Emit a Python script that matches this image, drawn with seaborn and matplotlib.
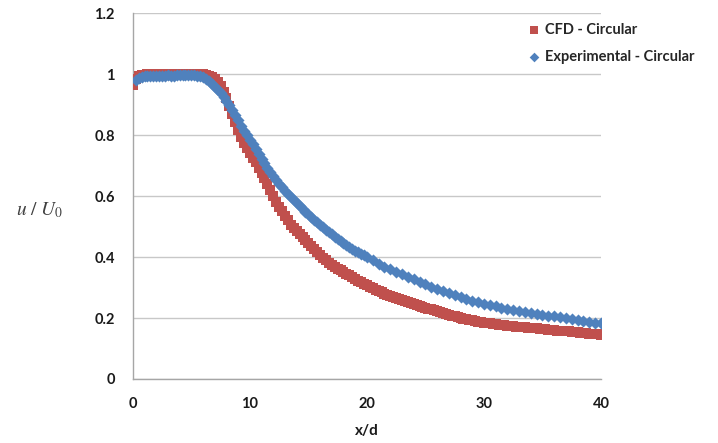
import numpy as np
import pandas as pd
import seaborn as sns
import matplotlib
matplotlib.use("Agg")
import matplotlib.pyplot as plt

# values (CFD every 0.25 in x/d)
cfd_x = [0.0, 0.25, 0.5, 0.75, 1.0, 1.25, 1.5, 1.75, 2.0, 2.25, 2.5, 2.75,
         3.0, 3.25, 3.5, 3.75, 4.0, 4.25, 4.5, 4.75, 5.0, 5.25, 5.5, 5.75,
         6.0, 6.25, 6.5, 6.75, 7.0, 7.25, 7.5, 7.75, 8.0, 8.25, 8.5, 8.75,
         9.0, 9.25, 9.5, 9.75, 10.0, 10.25, 10.5, 10.75, 11.0, 11.25, 11.5, 11.75,
         12.0, 12.25, 12.5, 12.75, 13.0, 13.25, 13.5, 13.75, 14.0, 14.25, 14.5, 14.75,
         15.0, 15.25, 15.5, 15.75, 16.0, 16.25, 16.5, 16.75, 17.0, 17.25, 17.5, 17.75,
         18.0, 18.25, 18.5, 18.75, 19.0, 19.25, 19.5, 19.75, 20.0, 20.25, 20.5, 20.75,
         21.0, 21.25, 21.5, 21.75, 22.0, 22.25, 22.5, 22.75, 23.0, 23.25, 23.5, 23.75,
         24.0, 24.25, 24.5, 24.75, 25.0, 25.25, 25.5, 25.75, 26.0, 26.25, 26.5, 26.75,
         27.0, 27.25, 27.5, 27.75, 28.0, 28.25, 28.5, 28.75, 29.0, 29.25, 29.5, 29.75,
         30.0, 30.25, 30.5, 30.75, 31.0, 31.25, 31.5, 31.75, 32.0, 32.25, 32.5, 32.75,
         33.0, 33.25, 33.5, 33.75, 34.0, 34.25, 34.5, 34.75, 35.0, 35.25, 35.5, 35.75,
         36.0, 36.25, 36.5, 36.75, 37.0, 37.25, 37.5, 37.75, 38.0, 38.25, 38.5, 38.75,
         39.0, 39.25, 39.5, 39.75, 40.0]
cfd_u = [0.965, 0.985, 0.995, 0.997, 0.998, 0.999, 0.999, 0.998, 0.998, 0.999, 0.999, 1.0,
         1.0, 0.999, 0.999, 1.0, 1.0, 1.0, 1.0, 1.0, 1.0, 1.0, 1.0, 1.0,
         0.999, 0.998, 0.995, 0.991, 0.985, 0.975, 0.96, 0.942, 0.92, 0.896, 0.87, 0.843,
         0.815, 0.795, 0.775, 0.757, 0.74, 0.725, 0.71, 0.693, 0.675, 0.658, 0.64, 0.62,
         0.60, 0.582, 0.565, 0.55, 0.535, 0.52, 0.505, 0.495, 0.485, 0.475, 0.465, 0.455,
         0.445, 0.435, 0.425, 0.415, 0.405, 0.397, 0.39, 0.382, 0.375, 0.368, 0.362, 0.356,
         0.35, 0.345, 0.34, 0.334, 0.328, 0.322, 0.317, 0.312, 0.307, 0.302, 0.298, 0.293,
         0.288, 0.284, 0.28, 0.276, 0.272, 0.268, 0.265, 0.262, 0.259, 0.256, 0.253, 0.25,
         0.246, 0.243, 0.24, 0.237, 0.234, 0.231, 0.228, 0.225, 0.222, 0.219, 0.216, 0.213,
         0.21, 0.207, 0.205, 0.202, 0.2, 0.198, 0.196, 0.194, 0.192, 0.19, 0.188, 0.186,
         0.185, 0.183, 0.182, 0.18, 0.179, 0.178, 0.177, 0.176, 0.175, 0.174, 0.173, 0.172,
         0.171, 0.17, 0.169, 0.168, 0.168, 0.167, 0.166, 0.165, 0.164, 0.163, 0.162, 0.161,
         0.16, 0.159, 0.158, 0.157, 0.157, 0.156, 0.155, 0.154, 0.153, 0.152, 0.151, 0.15,
         0.149, 0.148, 0.147, 0.146, 0.145]

# experimental points: dense up to x/d = 20, every 0.5 after that
exp_x = [0.3, 0.5, 0.75, 1.0, 1.25, 1.5, 1.75, 2.0, 2.25, 2.5, 2.75,
         3.0, 3.25, 3.5, 3.75, 4.0, 4.25, 4.5, 4.75, 5.0, 5.25, 5.5, 5.75,
         6.0, 6.25, 6.5, 6.75, 7.0, 7.25, 7.5, 7.75, 8.0, 8.25, 8.5, 8.75,
         9.0, 9.25, 9.5, 9.75, 10.0, 10.25, 10.5, 10.75, 11.0, 11.25, 11.5, 11.75,
         12.0, 12.25, 12.5, 12.75, 13.0, 13.25, 13.5, 13.75, 14.0, 14.25, 14.5, 14.75,
         15.0, 15.25, 15.5, 15.75, 16.0, 16.25, 16.5, 16.75, 17.0, 17.25, 17.5, 17.75,
         18.0, 18.25, 18.5, 18.75, 19.0, 19.25, 19.5, 19.75,
         20.0, 20.5, 21.0, 21.5, 22.0, 22.5, 23.0, 23.5, 24.0, 24.5,
         25.0, 25.5, 26.0, 26.5, 27.0, 27.5, 28.0, 28.5, 29.0, 29.5,
         30.0, 30.5, 31.0, 31.5, 32.0, 32.5, 33.0, 33.5, 34.0, 34.5,
         35.0, 35.5, 36.0, 36.5, 37.0, 37.5, 38.0, 38.5, 39.0, 39.5,
         40.0]
exp_u = [0.98, 0.988, 0.991, 0.993, 0.993, 0.994, 0.994, 0.995, 0.995, 0.994, 0.995,
         0.996, 0.995, 0.995, 0.996, 0.996, 0.997, 0.997, 0.996, 0.996, 0.996, 0.995, 0.993,
         0.99, 0.984, 0.977, 0.968, 0.958, 0.948, 0.937, 0.925, 0.912, 0.897, 0.882, 0.866,
         0.848, 0.83, 0.813, 0.799, 0.785, 0.77, 0.755, 0.738, 0.722, 0.707, 0.692, 0.678,
         0.665, 0.652, 0.64, 0.628, 0.617, 0.607, 0.598, 0.588, 0.578, 0.568, 0.558, 0.549,
         0.54, 0.531, 0.522, 0.514, 0.506, 0.498, 0.49, 0.482, 0.475, 0.467, 0.46, 0.453,
         0.446, 0.439, 0.432, 0.426, 0.42, 0.415, 0.41, 0.405,
         0.40, 0.39, 0.378, 0.368, 0.36, 0.352, 0.343, 0.335, 0.327, 0.318,
         0.31, 0.303, 0.295, 0.288, 0.281, 0.274, 0.268, 0.262, 0.257, 0.252,
         0.247, 0.242, 0.238, 0.234, 0.23, 0.226, 0.223, 0.22, 0.217, 0.214,
         0.211, 0.208, 0.205, 0.202, 0.2, 0.197, 0.194, 0.191, 0.188, 0.185,
         0.182]

series_names = ["CFD - Circular", "Experimental - Circular"]
x_ticks = [0, 10, 20, 30, 40]
y_ticks = [0, 0.2, 0.4, 0.6, 0.8, 1.0, 1.2]
y_tick_labels = ["0", "0.2", "0.4", "0.6", "0.8", "1", "1.2"]

cfd = pd.DataFrame({"x/d": cfd_x, "u": cfd_u})
exp = pd.DataFrame({"x/d": exp_x, "u": exp_u})

sns.set_style("white")
plt.rcParams["font.family"] = ["Lato", "DejaVu Sans"]
plt.rcParams["mathtext.fontset"] = "stix"

fig = plt.figure(figsize=(7.18, 4.43), dpi=100)
ax = fig.add_axes([0.185, 0.1445, 0.652, 0.826])

# red squares first, blue diamonds on top
sns.scatterplot(data=cfd, x="x/d", y="u", marker="s", s=52, color="#C0504D",
                linewidth=0, label=series_names[0], ax=ax, zorder=3)
sns.scatterplot(data=exp, x="x/d", y="u", marker="D", s=38, color="#4F81BD",
                linewidth=0, label=series_names[1], ax=ax, zorder=4)

ax.set_xlim(0, 40)
ax.set_ylim(0, 1.2)
ax.set_xticks(x_ticks)
ax.set_yticks(y_ticks)
ax.set_yticklabels(y_tick_labels)
ax.grid(axis="y", color="#c8c8c8", linewidth=1)
ax.set_axisbelow(True)

for side in ["top", "right"]:
    ax.spines[side].set_visible(False)
for side in ["left", "bottom"]:
    ax.spines[side].set_color("#a6a6a6")
    ax.spines[side].set_linewidth(1)

ax.tick_params(direction="out", length=5, width=1, color="#a6a6a6",
               labelsize=10.5, labelcolor="#1a1a1a", pad=8)
for lab in ax.get_xticklabels() + ax.get_yticklabels():
    lab.set_fontweight("bold")

ax.set_xlabel("x/d", fontsize=11, fontweight="bold", color="#1a1a1a", labelpad=9)
ax.set_ylabel("")
ax.text(-0.2, 0.462, r"$u\ /\ U_0$", transform=ax.transAxes,
        fontsize=14, color="#404040", ha="center", va="center")

leg = ax.legend(loc="upper left", bbox_to_anchor=(0.713, 0.978),
                bbox_transform=fig.transFigure, frameon=False,
                handletextpad=0.15, handlelength=1.2, labelspacing=0.9,
                markerscale=0.8, prop={"weight": "bold", "size": 10.5})

fig.savefig("out.png", dpi=100)
